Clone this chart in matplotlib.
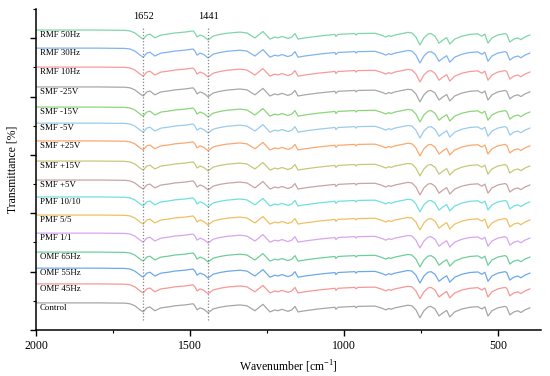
import matplotlib
matplotlib.use("Agg")
import matplotlib.pyplot as plt
from matplotlib.ticker import MultipleLocator

plt.rcParams['font.family'] = ['Liberation Serif', 'DejaVu Serif']
plt.rcParams['mathtext.fontset'] = 'custom'
plt.rcParams['mathtext.rm'] = 'Liberation Serif'

# sample names, bottom to top, with their vertical offsets
labels = ["Control", "OMF 45Hz", "OMF 55Hz", "OMF 65Hz", "PMF 1/1", "PMF 5/5",
          "PMF 10/10", "SMF +5V", "SMF +15V", "SMF +25V", "SMF -5V", "SMF -15V",
          "SMF -25V", "RMF 10Hz", "RMF 30Hz", "RMF 50Hz"]
offsets = [9.3, 15.8, 21.2, 26.7, 33.2, 39.4, 45.6, 51.4, 57.9, 64.8, 70.9,
           76.4, 83.3, 90.1, 96.6, 102.8]
colors = ["#a6a6a6", "#f69898", "#6ea8ee", "#6fcf9a", "#d8a6ee", "#efc062",
          "#6fe0e0", "#c9a4a4", "#c8c87a", "#fba870", "#9ccbee", "#8cd67a",
          "#a8a8a8", "#f99a9a", "#80b4f0", "#7fd6a8"]

# shared spectrum shape (wavenumber, relative transmittance)
wavenumber = [2000, 1800, 1711, 1695, 1679, 1662, 1652, 1640, 1630, 1614, 1604,
              1594, 1571, 1549, 1516, 1490, 1484, 1477, 1467, 1455, 1441, 1425,
              1403, 1380, 1338, 1315, 1289, 1263, 1240, 1224, 1214, 1201, 1182,
              1169, 1159, 1149, 1127, 1084, 1029, 1026, 1019, 964, 961, 955, 899,
              877, 864, 854, 847, 834, 792, 779, 766, 753, 740, 727, 717, 704,
              691, 678, 666, 656, 640, 617, 591, 565, 552, 542, 532, 519, 500,
              477, 471, 461, 448, 435, 425, 412, 396]
transmit = [0, 0, -0.1, -0.3, -1.0, -2.4, -3.1, -1.7, -1.4, -2.7, -2.2,
            -1.7, -1.4, -1.0, -0.7, -0.3, -1.0, -2.4, -1.7, -2.2, -3.4, -2.1,
            -1.5, -1.1, -0.7, -1.0, -2.7, -0.5, -3.1, -2.4, -2.7, -2.2, -2.9,
            -2.4, -1.2, -3.1, -2.7, -2.1, -1.5, -2.2, -1.5, -1.2, -1.7, -1.2, -1.1,
            -1.8, -2.4, -1.9, -2.2, -1.7, -0.8, -1.0, -2.4, -5.1, -2.7, -1.4, -1.2, -2.1,
            -4.5, -3.4, -2.6, -4.8, -3.1, -2.1, -1.5, -1.3, -2.1, -1.4, -4.5, -2.7, -1.7,
            -1.2, -1.5, -4.1, -3.1, -2.7, -3.3, -2.4, -1.7]

peaks = [1652, 1441]

fig = plt.figure(figsize=(5.5, 3.76), dpi=100)
ax = fig.add_axes([0.0655, 0.1223, 0.918, 0.8537])

for lab, off, col in zip(labels, offsets, colors):
    ax.plot(wavenumber, [t + off for t in transmit], color=col, lw=0.9)
    ax.text(1988, off - 1.8, lab, fontsize=6.4, va='center', ha='left')

for p in peaks:
    ax.plot([p, p], [3.4, 103.5], color='#888888', lw=0.9, ls=(0, (1, 1.5)))
    ax.text(p, 107.3, str(p), fontsize=7.5, ha='center', va='center')

ax.set_xlim(2000, 360)
ax.set_ylim(0, 110)
ax.xaxis.set_major_locator(MultipleLocator(500))
ax.xaxis.set_minor_locator(MultipleLocator(250))
ax.yaxis.set_major_locator(MultipleLocator(20))
ax.yaxis.set_minor_locator(MultipleLocator(10))
ax.tick_params(which='major', direction='out', length=4, width=1, labelsize=8.5)
ax.tick_params(which='minor', direction='out', length=2.5, width=0.8)
ax.tick_params(axis='y', labelleft=False)
for s in ['top', 'right']:
    ax.spines[s].set_visible(False)
for s in ['left', 'bottom']:
    ax.spines[s].set_linewidth(1.1)

ax.set_xlabel(r'Wavenumber [cm$^{\mathrm{-1}}$]', fontsize=8.5)
ax.set_ylabel('Transmittance [%]', fontsize=8.5)
ax.xaxis.set_label_coords(0.5, -0.088)
ax.yaxis.set_label_coords(-0.035, 0.5)

fig.savefig("out.png", dpi=100)
